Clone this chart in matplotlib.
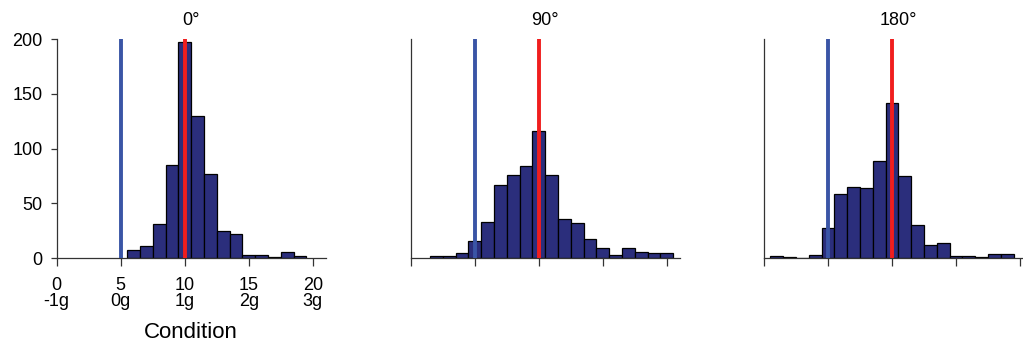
import numpy as np
import matplotlib.pyplot as plt

plt.rcParams['font.family'] = ['Liberation Sans', 'DejaVu Sans']

# Daten: Histogramme (Klassenbreite 1) pro Orientierung
titles = ['0°', '90°', '180°']
bin_starts = [5.5, 1.5, 0.5]
counts = [
    [8, 11, 31, 85, 197, 130, 77, 25, 22, 3, 3, 1, 6, 2],
    [2, 2, 5, 16, 33, 67, 76, 84, 116, 76, 36, 32, 18, 9, 3, 9, 6, 5, 5],
    [2, 1, 0, 3, 28, 59, 65, 64, 89, 142, 75, 30, 12, 14, 2, 2, 1, 4, 4],
]
zero_g = 5    # blaue Linie
one_g = 10    # rote Linie
xticks = [0, 5, 10, 15, 20]
xticklabels = ['0\n-1g', '5\n0g', '10\n1g', '15\n2g', '20\n3g']
yticks = [0, 50, 100, 150, 200]

bar_color = '#2B2E7C'
blue = '#3A55A6'
red = '#F01E1E'
axis_col = '#333333'

fig = plt.figure(figsize=(10.23, 3.44), dpi=100)
lefts = [56.7, 410.7, 764.0]
W, H = 1023.0, 344.0

for i in range(3):
    ax = fig.add_axes([lefts[i] / W, 85.7 / H, 21 * 12.8 / W, 219.3 / H])
    edges = bin_starts[i] + np.arange(len(counts[i]))
    ax.bar(edges, counts[i], width=1, align='edge', color=bar_color,
           edgecolor='black', linewidth=0.9, zorder=2)
    ax.plot([zero_g, zero_g], [0, 200], color=blue, lw=2.8, zorder=3,
            solid_capstyle='butt', clip_on=False)
    ax.plot([one_g, one_g], [0, 200], color=red, lw=2.8, zorder=3,
            solid_capstyle='butt', clip_on=False)
    ax.set_xlim(0, 21)
    ax.set_ylim(0, 200)
    ax.set_title(titles[i], fontsize=13, pad=10)
    for s in ['top', 'right']:
        ax.spines[s].set_visible(False)
    for s in ['left', 'bottom']:
        ax.spines[s].set_color(axis_col)
        ax.spines[s].set_linewidth(0.9)
    ax.set_xticks(xticks)
    ax.tick_params(axis='x', direction='out', length=5.5, width=0.9,
                   color=axis_col, labelsize=13, pad=8)
    ax.tick_params(axis='y', direction='out', length=4, width=0.9,
                   color=axis_col, labelsize=13, pad=6)
    ax.patch.set_visible(False)
    if i == 0:
        ax.set_xticklabels(xticklabels, linespacing=0.9)
        ax.set_yticks(yticks)
        ax.set_xlabel('Condition', fontsize=16, labelpad=9)
    else:
        ax.set_xticklabels([])
        ax.set_yticks([])

fig.savefig('out.png', dpi=100)
